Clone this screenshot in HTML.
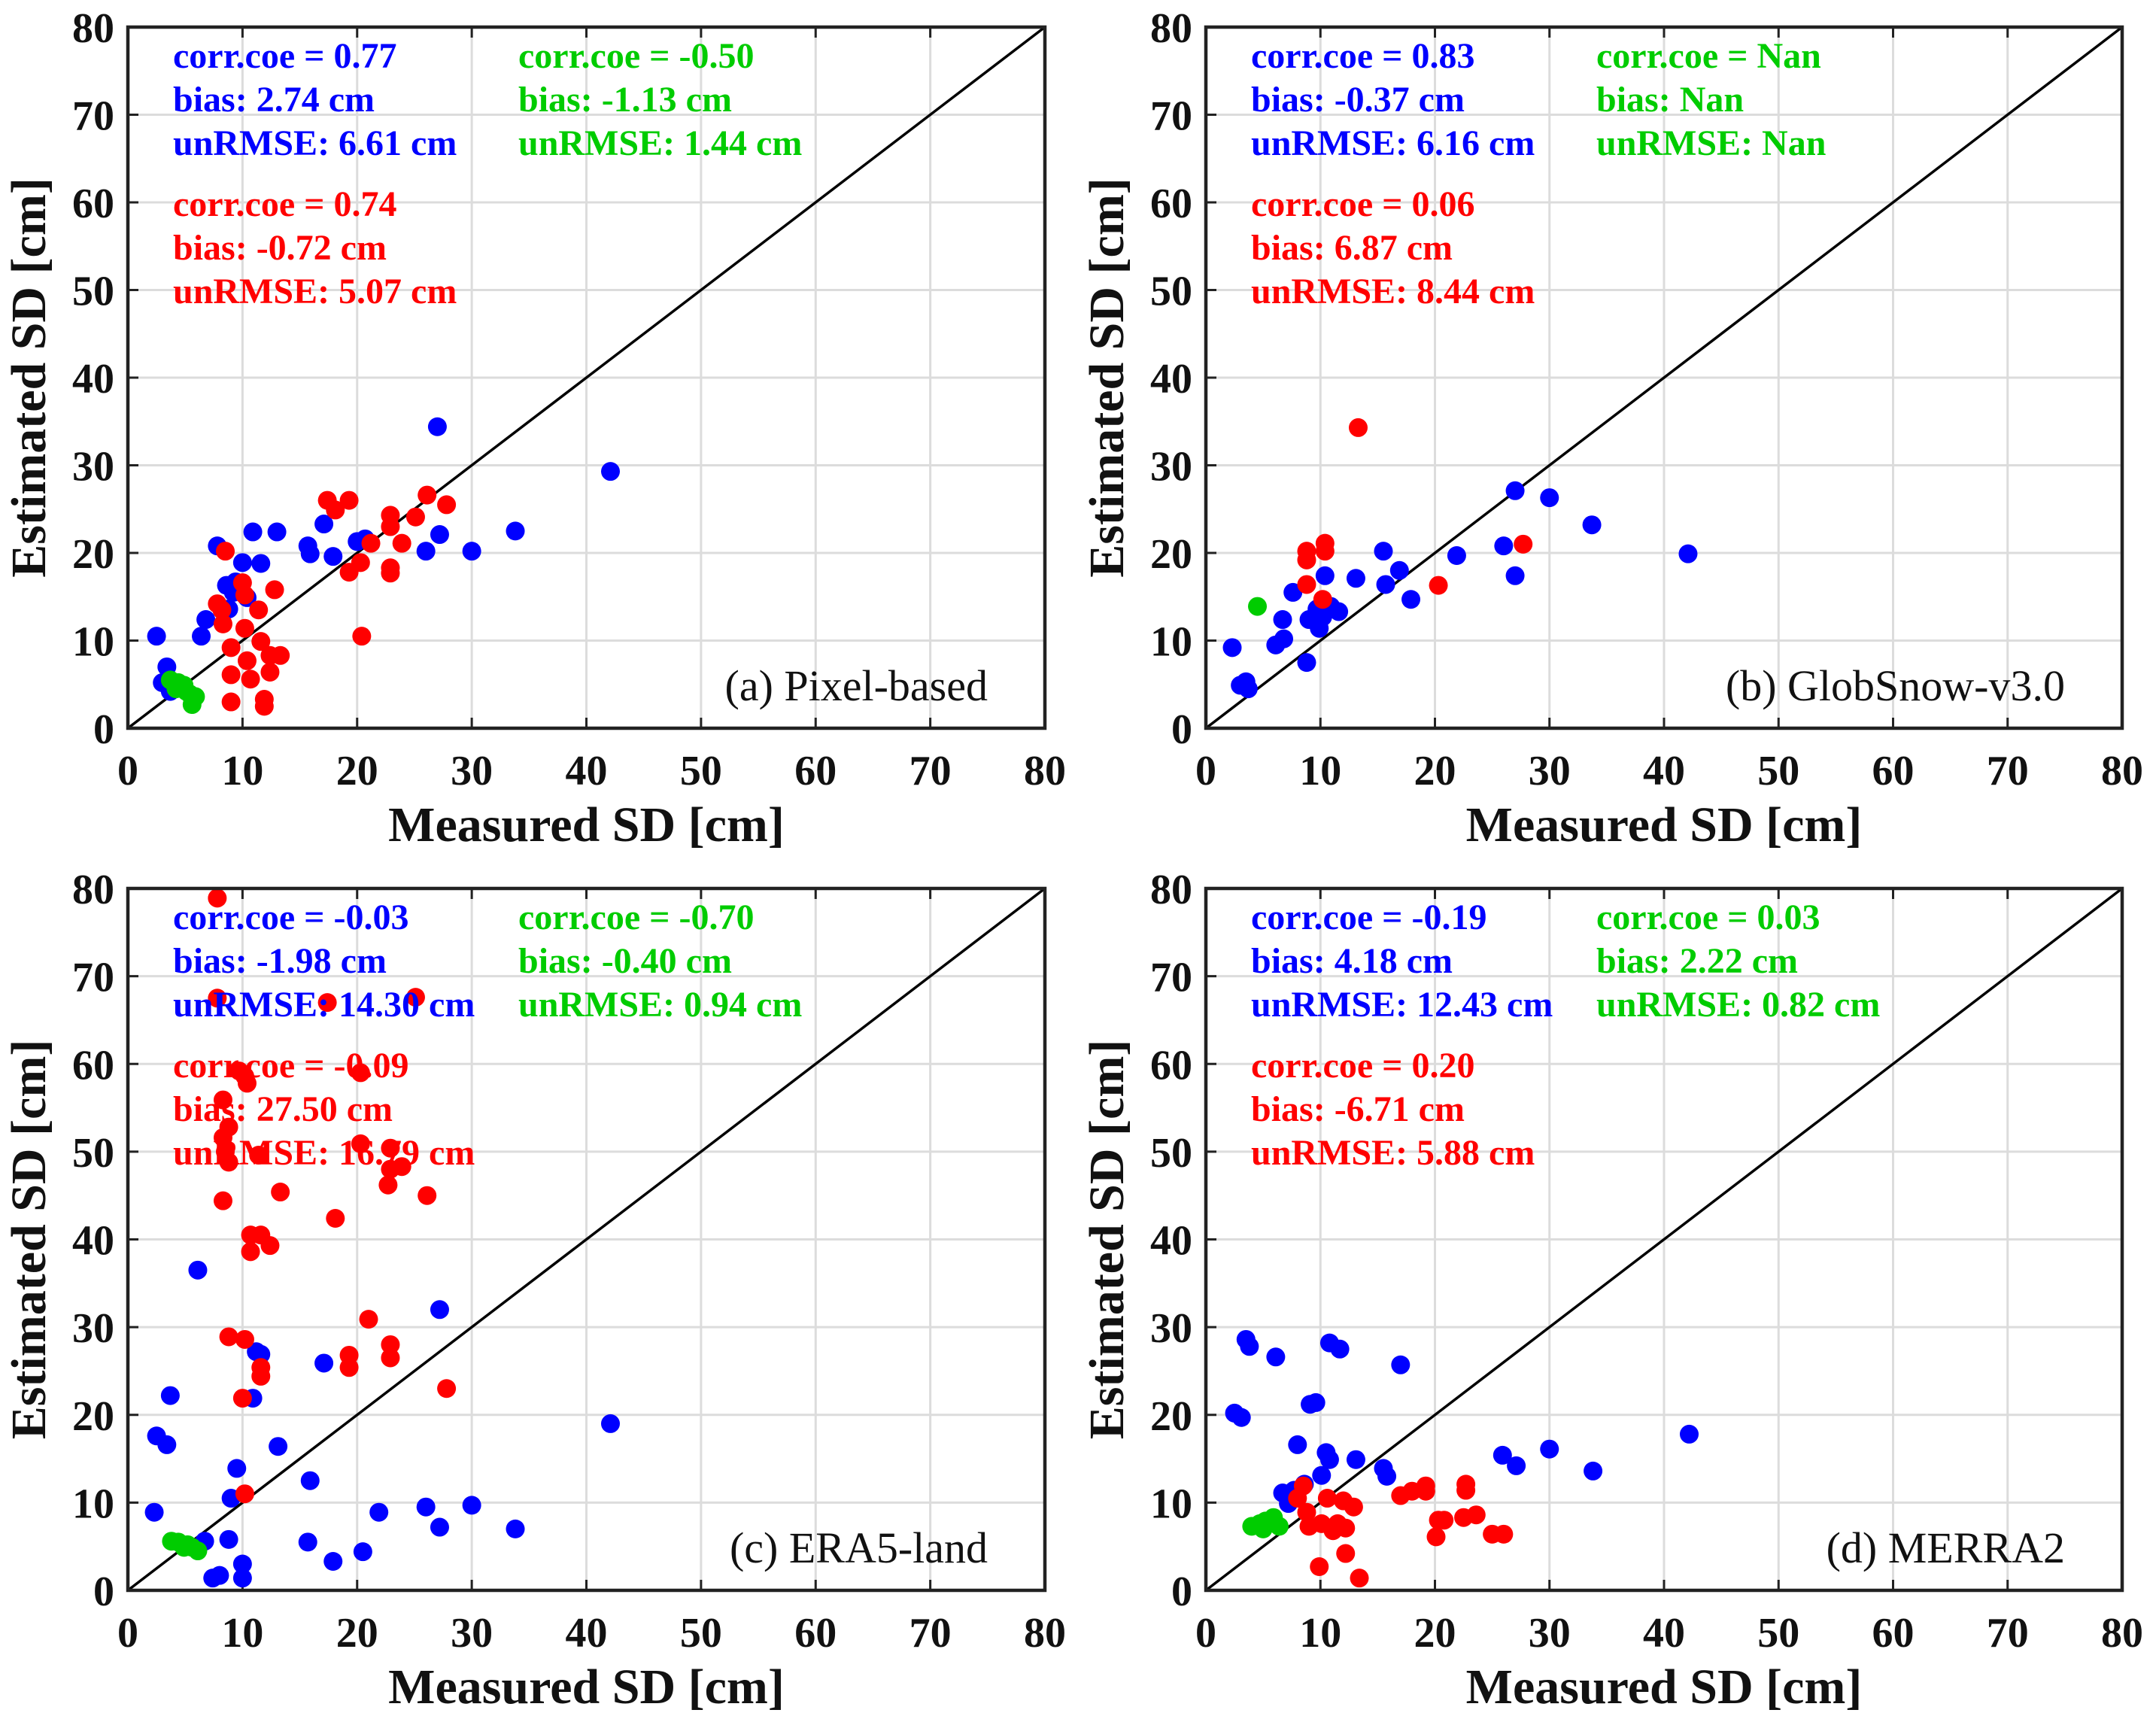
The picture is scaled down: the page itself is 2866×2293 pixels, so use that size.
<!DOCTYPE html>
<html><head><meta charset="utf-8">
<style>
html,body{margin:0;padding:0;background:#fff;}
svg{display:block;font-family:"Liberation Serif",serif;}
</style></head>
<body>
<svg id="fig" width="2866" height="2293" viewBox="0 0 2866 2293" xmlns="http://www.w3.org/2000/svg"></svg>
<script>
const ticks = [0,10,20,30,40,50,60,70,80];
const tickLabels = ["0","10","20","30","40","50","60","70","80"];
const panelTitles = ["(a) Pixel-based","(b) GlobSnow-v3.0","(c) ERA5-land","(d) MERRA2"];

const aBlueX=[2.5,3,3.4,3.7,6.4,6.8,7.8,8.6,9.2,10,10.4,10.9,11.6,13,8.8,15.7,15.9,17.1,17.9,20,20.7,26,27,27.2,30,33.8,42.1,9.4];
const aBlueY=[10.5,5.2,7,4.2,10.5,12.4,20.8,16.3,15.5,18.9,14.9,22.4,18.8,22.4,13.6,20.8,19.9,23.3,19.6,21.3,21.6,20.2,34.4,22.1,20.2,22.5,29.3,16.7];
const aRedX=[8.5,7.8,8.2,8.3,9,9,9,10,10.2,10.2,10.4,10.7,11.4,11.6,11.9,11.9,12.4,12.4,13.3,17.4,18.1,19.3,19.3,20.3,20.4,21.2,22.9,22.9,22.9,22.9,23.9,25.1,26.1,27.8,12.8];
const aRedY=[20.2,14.2,13.5,11.9,9.2,6.1,3,16.6,15.2,11.4,7.7,5.6,13.5,9.9,3.3,2.5,8.3,6.4,8.3,26,24.9,26,17.8,18.9,10.5,21.1,24.3,23,18.3,17.7,21.1,24.1,26.6,25.5,15.8];
const aGreenX=[3.7,4.4,4.9,5.1,5.4,5.6,5.9,4.2];
const aGreenY=[5.5,5.2,4.9,4.2,3.9,2.7,3.6,4.5];

const bBlueX=[2.3,3,3.5,3.7,6.1,6.8,6.7,7.6,8.8,9,9.7,9.9,10.4,10.2,10.9,11.6,13.1,15.5,15.7,16.9,17.9,21.9,26,27,27,30,33.7,42.1];
const bBlueY=[9.2,4.9,5.3,4.5,9.5,10.2,12.4,15.5,7.5,12.4,13.6,11.4,17.4,12.7,13.9,13.3,17.1,20.2,16.4,18,14.7,19.7,20.8,17.4,27.1,26.3,23.2,19.9];
const bRedX=[8.8,8.8,8.8,10.4,10.4,10.2,13.3,20.3,27.7];
const bRedY=[20.2,19.2,16.4,21.1,20.2,14.7,34.3,16.3,21];
const bGreenX=[4.5];
const bGreenY=[13.9];

const cBlueX=[2.3,2.5,3.4,3.7,6.1,6.7,7.4,8,8.8,9,9.5,10,10,10.9,11.2,11.6,13.1,15.7,15.9,17.1,17.9,20.5,21.9,26,27.2,27.2,30,33.8,42.1];
const cBlueY=[8.9,17.6,16.6,22.2,36.5,5.6,1.4,1.7,5.8,10.5,13.9,3,1.4,21.9,27.2,26.9,16.4,5.5,12.5,25.9,3.3,4.4,8.9,9.5,32,7.2,9.7,7,19];
const cRedX=[7.8,7.8,8.3,8.3,8.5,8.8,8.8,8.3,8.8,9.7,10.2,10.4,10,10.2,10.2,10.7,10.7,11.4,11.6,11.6,11.6,12.4,13.3,17.4,18.1,19.3,19.3,20.3,20.3,21,22.7,22.9,22.9,22.9,22.9,23.9,25.1,26.1,27.8];
const cRedY=[78.9,67.5,55.9,51.6,50,52.8,48.8,44.4,28.9,59.2,58.6,57.8,21.9,11,28.6,40.5,38.6,49.6,40.5,25.4,24.4,39.3,45.4,67,42.4,26.8,25.4,59,50.9,30.9,46.2,50.4,48,28,26.5,48.3,67.6,45,23];
const cGreenX=[3.8,4.4,5.2,5.6,6.1,4.9];
const cGreenY=[5.6,5.5,5.2,4.9,4.5,4.9];

const dBlueX=[2.5,3.1,3.5,3.8,6.1,6.7,7.2,7.7,8,8.6,9.1,9.6,10.1,10.5,10.8,10.8,11.7,13.1,15.5,15.8,17,25.9,27.1,30,33.8,42.2];
const dBlueY=[20.2,19.7,28.6,27.8,26.6,11.1,9.9,11.4,16.6,12.1,21.2,21.4,13.1,15.7,14.9,28.2,27.5,14.9,13.9,13,25.7,15.4,14.2,16.1,13.6,17.8];
const dRedX=[8,8.5,8.8,9,9.9,10.1,10.6,11.1,11.5,12,12.2,12.2,12.9,13.4,17,18,19.2,19.2,20.1,20.3,20.8,22.5,22.7,22.7,23.6,25,26];
const dRedY=[10.5,11.9,8.9,7.3,2.7,7.6,10.5,6.8,7.6,10.2,4.2,7.1,9.5,1.4,10.8,11.3,11.9,11.3,6.1,8,8,8.3,12.1,11.4,8.6,6.4,6.4];
const dGreenX=[4,4.7,5.2,5.9,6.4,5];
const dGreenY=[7.3,7.6,7.9,8.3,7.3,7];

const statsBlue=[["corr.coe = 0.77","bias: 2.74 cm","unRMSE: 6.61 cm"],["corr.coe = 0.83","bias: -0.37 cm","unRMSE: 6.16 cm"],["corr.coe = -0.03","bias: -1.98 cm","unRMSE: 14.30 cm"],["corr.coe = -0.19","bias: 4.18 cm","unRMSE: 12.43 cm"]];
const statsGreen=[["corr.coe = -0.50","bias: -1.13 cm","unRMSE: 1.44 cm"],["corr.coe = Nan","bias: Nan","unRMSE: Nan"],["corr.coe = -0.70","bias: -0.40 cm","unRMSE: 0.94 cm"],["corr.coe = 0.03","bias: 2.22 cm","unRMSE: 0.82 cm"]];
const statsRed=[["corr.coe = 0.74","bias: -0.72 cm","unRMSE: 5.07 cm"],["corr.coe = 0.06","bias: 6.87 cm","unRMSE: 8.44 cm"],["corr.coe = -0.09","bias: 27.50 cm","unRMSE: 16.79 cm"],["corr.coe = 0.20","bias: -6.71 cm","unRMSE: 5.88 cm"]];

const panels=[
 {x0:170,x1:1389,y0:36,y1:968,blue:[aBlueX,aBlueY],red:[aRedX,aRedY],green:[aGreenX,aGreenY]},
 {x0:1603,x1:2821,y0:36,y1:968,blue:[bBlueX,bBlueY],red:[bRedX,bRedY],green:[bGreenX,bGreenY]},
 {x0:170,x1:1389,y0:1181,y1:2114,blue:[cBlueX,cBlueY],red:[cRedX,cRedY],green:[cGreenX,cGreenY]},
 {x0:1603,x1:2821,y0:1181,y1:2114,blue:[dBlueX,dBlueY],red:[dRedX,dRedY],green:[dGreenX,dGreenY]}
];
const NS="http://www.w3.org/2000/svg";
const svg=document.getElementById('fig');
function mk(tag,attrs,parent,text){const e=document.createElementNS(NS,tag);for(const k in attrs)e.setAttribute(k,attrs[k]);if(text!==undefined)e.textContent=text;parent.appendChild(e);return e;}
const letters=['a','b','c','d'];
const colors={blue:'#0000ff',red:'#ff0000',green:'#00cc00'};
panels.forEach((p,i)=>{
  const g=mk('g',{},svg);
  
  
  const sx=v=>p.x0+(p.x1-p.x0)*v/80;
  const sy=v=>p.y1-(p.y1-p.y0)*v/80;
  ticks.forEach((t,k)=>{
    if(t>0&&t<80){
      const gv=mk('line',{x1:sx(t),x2:sx(t),y1:p.y0,y2:p.y1,stroke:'#dcdcdc','stroke-width':3},g);
      
      
      const gh=mk('line',{x1:p.x0,x2:p.x1,y1:sy(t),y2:sy(t),stroke:'#dcdcdc','stroke-width':3},g);
      
      
    }
    const tx1=mk('line',{x1:sx(t),x2:sx(t),y1:p.y1,y2:p.y1-14,stroke:'#222','stroke-width':3},g);
    
    
    const tx2=mk('line',{x1:sx(t),x2:sx(t),y1:p.y0,y2:p.y0+14,stroke:'#222','stroke-width':3},g);
    
    
    const ty1=mk('line',{x1:p.x0,x2:p.x0+14,y1:sy(t),y2:sy(t),stroke:'#222','stroke-width':3},g);
    
    
    const xl=mk('text',{x:sx(t),y:p.y1+75,'text-anchor':'middle','font-size':56,'font-weight':'bold',fill:'#111'},g,tickLabels[k]);
    
    
    const yl=mk('text',{x:p.x0-18,y:sy(t)+20,'text-anchor':'end','font-size':56,'font-weight':'bold',fill:'#111'},g,tickLabels[k]);
    
    
  });
  const diag=mk('line',{x1:sx(0),y1:sy(0),x2:sx(80),y2:sy(80),stroke:'#000','stroke-width':3.5},g);
  
  
  ['blue','red','green'].forEach(c=>{
    const [xs,ys]=p[c];
    xs.forEach((v,j)=>{
      const dot=mk('circle',{cx:sx(v),cy:sy(ys[j]),r:12.5,fill:colors[c]},g);
      
      
    });
  });
  const fr=mk('rect',{x:p.x0,y:p.y0,width:p.x1-p.x0,height:p.y1-p.y0,fill:'none',stroke:'#222','stroke-width':4.5},g);
  
  
  const bx=p.x0+60, gx=p.x0+519;
  const lines=[[statsBlue[i],bx,p.y0+38,colors.blue],[statsGreen[i],gx,p.y0+38,colors.green],[statsRed[i],bx,p.y0+235,colors.red]];
  lines.forEach(([arr,x,y,col])=>{
    arr.forEach((s,k)=>{
      const t=mk('text',{x:x,y:y+k*58+16,'font-size':48,'font-weight':'bold',fill:col},g,s);
      
      
    });
  });
  const pt=mk('text',{x:p.x1-76,y:p.y1-37,'text-anchor':'end','font-size':58,fill:'#111'},g,panelTitles[i]);
  
  
  const xt=mk('text',{x:(p.x0+p.x1)/2,y:p.y1+150,'text-anchor':'middle','font-size':66,'font-weight':'bold',fill:'#111'},g,'Measured SD [cm]');
  
  
  const cy=(p.y0+p.y1)/2, cx=p.x0-110;
  const yt=mk('text',{x:cx,y:cy,'text-anchor':'middle','font-size':66,'font-weight':'bold',fill:'#111',transform:`rotate(-90 ${cx} ${cy})`},g,'Estimated SD [cm]');
  
  
});
</script>
</body></html>
